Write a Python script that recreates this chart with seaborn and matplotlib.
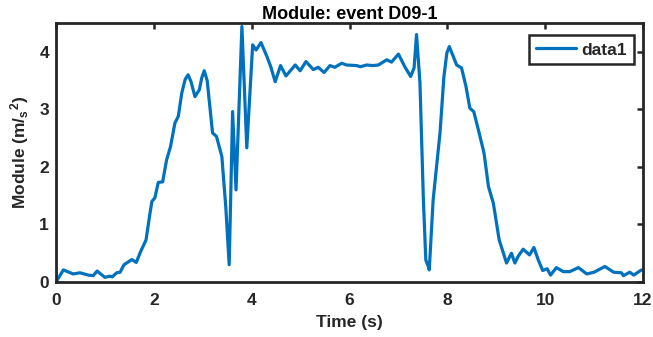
import matplotlib
matplotlib.use("Agg")
import matplotlib.pyplot as plt
import seaborn as sns
import pandas as pd

# Acceleration module for event D09-1
time_s = [0.00, 0.15, 0.35, 0.49, 0.66, 0.76, 0.84, 1.00, 1.09, 1.15, 1.24, 1.31,
          1.39, 1.55, 1.64, 1.73, 1.84, 1.92, 1.96, 2.02, 2.09, 2.18, 2.26, 2.34,
          2.43, 2.50, 2.57, 2.64, 2.70, 2.76, 2.84, 2.93, 2.98, 3.03, 3.09, 3.20, 3.28, 3.39, 3.47,
          3.54, 3.61, 3.68, 3.80, 3.90, 4.02, 4.09, 4.19, 4.31, 4.39, 4.48, 4.59,
          4.70, 4.89, 4.99, 5.11, 5.26, 5.36, 5.48, 5.60, 5.70, 5.84, 5.94, 6.15,
          6.22, 6.35, 6.48, 6.59, 6.76, 6.86, 7.00, 7.13, 7.25, 7.32, 7.37, 7.44,
          7.51, 7.56, 7.61, 7.63, 7.71, 7.85, 7.93, 7.99, 8.04, 8.12, 8.19, 8.29, 8.38,
          8.46, 8.54, 8.65, 8.75, 8.84, 8.94, 9.06, 9.21, 9.31, 9.38, 9.45, 9.55,
          9.68, 9.77, 9.86, 9.95, 10.04, 10.11, 10.23, 10.37, 10.50, 10.68, 10.85,
          11.00, 11.22, 11.40, 11.56, 11.60, 11.73, 11.81, 11.97]
module = [0.00, 0.21, 0.14, 0.16, 0.12, 0.11, 0.19, 0.08, 0.10, 0.09, 0.16, 0.17,
          0.30, 0.39, 0.34, 0.53, 0.73, 1.19, 1.40, 1.46, 1.73, 1.74, 2.12, 2.35,
          2.76, 2.88, 3.28, 3.52, 3.60, 3.48, 3.22, 3.34, 3.55, 3.67, 3.50, 2.59, 2.53, 2.18, 1.31,
          0.30, 2.96, 1.60, 4.44, 2.33, 4.12, 4.03, 4.16, 3.92, 3.74, 3.48, 3.76,
          3.58, 3.77, 3.67, 3.83, 3.69, 3.73, 3.64, 3.76, 3.73, 3.80, 3.77, 3.76,
          3.74, 3.77, 3.76, 3.77, 3.86, 3.82, 3.96, 3.74, 3.57, 3.72, 4.30, 3.46,
          1.43, 0.38, 0.27, 0.21, 1.43, 2.59, 3.57, 3.98, 4.09, 3.92, 3.77, 3.72, 3.40,
          3.02, 2.96, 2.59, 2.24, 1.66, 1.37, 0.73, 0.33, 0.50, 0.33, 0.45, 0.57,
          0.47, 0.60, 0.38, 0.20, 0.23, 0.12, 0.25, 0.18, 0.18, 0.25, 0.14,
          0.17, 0.27, 0.17, 0.16, 0.11, 0.17, 0.12, 0.21]
x_ticks = [0, 2, 4, 6, 8, 10, 12]
y_ticks = [0, 1, 2, 3, 4]

df = pd.DataFrame({"Time (s)": time_s, "Module": module})

sns.set_theme(style="white")
plt.rcParams["font.family"] = ["Liberation Sans", "DejaVu Sans"]
plt.rcParams["font.weight"] = "bold"
plt.rcParams["mathtext.fontset"] = "custom"
plt.rcParams["mathtext.rm"] = "Liberation Sans:bold"
plt.rcParams["mathtext.bf"] = "Liberation Sans:bold"
plt.rcParams["mathtext.it"] = "Liberation Sans:bold"
plt.rcParams["mathtext.default"] = "rm"

axis_color = "#262626"
fig = plt.figure(figsize=(6.53, 3.37), dpi=100)
ax = fig.add_axes([0.0858, 0.1632, 0.8989, 0.7686])

sns.lineplot(data=df, x="Time (s)", y="Module", ax=ax, color="#0072BD",
             linewidth=2.3, label="data1", sort=False,
             solid_joinstyle="round", solid_capstyle="round")

ax.set_xlim(0, 12)
ax.set_ylim(0, 4.5)
ax.set_xticks(x_ticks)
ax.set_yticks(y_ticks)
ax.tick_params(axis="both", direction="in", length=4, width=1.8,
               colors=axis_color, labelsize=12.5, top=True, right=True)
ax.tick_params(axis="x", pad=8)
ax.tick_params(axis="y", pad=5)
for lbl in ax.get_xticklabels() + ax.get_yticklabels():
    lbl.set_fontweight("bold")
for sp in ax.spines.values():
    sp.set_color(axis_color)
    sp.set_linewidth(2.0)

ax.set_xlabel("Time (s)", fontsize=12.5, fontweight="bold", color=axis_color,
              labelpad=5)
ax.set_ylabel(r"Module (m/$_{s}$$^{2}$)", fontsize=12.5, fontweight="bold",
              color=axis_color, labelpad=6)
ax.set_title("Module: event D09-1", fontsize=13, fontweight="bold",
             color="black", pad=3)

leg = ax.legend(loc="upper right", bbox_to_anchor=(0.984, 0.952),
                frameon=True, fancybox=False,
                prop={"weight": "bold", "size": 12.5},
                handlelength=2.3, borderpad=0.4, handletextpad=0.3,
                borderaxespad=0.0)
leg.get_frame().set_edgecolor(axis_color)
leg.get_frame().set_linewidth(1.8)
leg.get_frame().set_alpha(1.0)

fig.savefig("out.png", dpi=100)
